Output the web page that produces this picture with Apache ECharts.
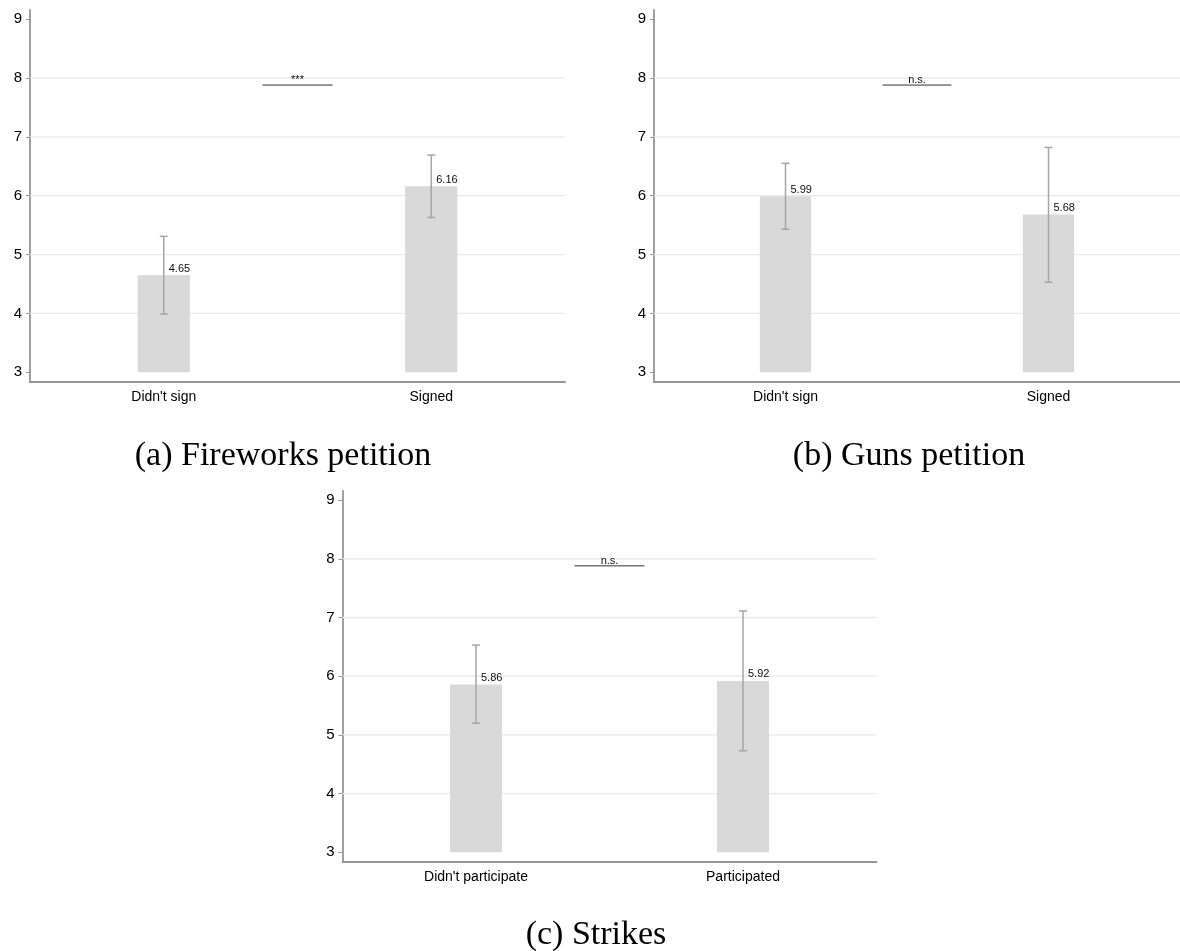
<!DOCTYPE html>
<html>
<head>
<meta charset="utf-8">
<script src="https://cdn.jsdelivr.net/npm/echarts@6/dist/echarts.min.js"></script>
<style>
  html, body { margin: 0; padding: 0; background: #fff; }
  #chart { width: 1180px; height: 951px; }
</style>
</head>
<body>
<div id="chart"></div>
<script>
// Mean ratings with 95% confidence intervals, bars start at the scale floor of 3.
const yTicks = [3, 4, 5, 6, 7, 8, 9];
const gridValues = [4, 5, 6, 7, 8];
const barBase = 3;
const sigLevel = 7.88;

// (a) Fireworks petition
const fireworksCategories = ["Didn't sign", "Signed"];
const fireworksMeans = [4.65, 6.16];
const fireworksLower = [3.99, 5.63];
const fireworksUpper = [5.31, 6.69];
const fireworksSig = '***';

// (b) Guns petition
const gunsCategories = ["Didn't sign", "Signed"];
const gunsMeans = [5.99, 5.68];
const gunsLower = [5.43, 4.53];
const gunsUpper = [6.55, 6.82];
const gunsSig = 'n.s.';

// (c) Strikes
const strikesCategories = ["Didn't participate", "Participated"];
const strikesMeans = [5.86, 5.92];
const strikesLower = [5.20, 4.73];
const strikesUpper = [6.53, 7.11];
const strikesSig = 'n.s.';

const captions = ['(a) Fireworks petition', '(b) Guns petition', '(c) Strikes'];

const SANS = "'Liberation Sans', Arial, Helvetica, sans-serif";
const AXIS_COLOR = '#969696';
const BAR_COLOR = '#d9d9d9';
const CI_COLOR = '#a6a6a6';
const GRID_COLOR = '#eaeaea';

const panels = [
  { cats: fireworksCategories, means: fireworksMeans, lo: fireworksLower, hi: fireworksUpper, sig: fireworksSig,
    grid: { left: 30, top: 10, width: 535, height: 372 } },
  { cats: gunsCategories, means: gunsMeans, lo: gunsLower, hi: gunsUpper, sig: gunsSig,
    grid: { left: 654, top: 10, width: 534, height: 372 } },
  { cats: strikesCategories, means: strikesMeans, lo: strikesLower, hi: strikesUpper, sig: strikesSig,
    grid: { left: 342.5, top: 491, width: 534, height: 371 } }
];

const captionPos = [[283, 456], [909, 456], [596, 935]];

function renderGridLine(params, api) {
  const cs = params.coordSys;
  const y = api.coord([0, api.value(1)])[1];
  return {
    type: 'line',
    shape: { x1: cs.x, y1: y, x2: cs.x + cs.width, y2: y },
    style: { stroke: GRID_COLOR, lineWidth: 1.3 }
  };
}

function renderBar(params, api) {
  const i = api.value(0);
  const mean = api.value(1);
  const base = api.coord([i, barBase]);
  const top = api.coord([i, mean]);
  const lo = api.coord([i, api.value(2)]);
  const hi = api.coord([i, api.value(3)]);
  const cx = base[0];
  const bw = api.size([1, 0])[0] * 0.195;
  const cap = 4;
  return {
    type: 'group',
    children: [
      { type: 'rect', shape: { x: cx - bw / 2, y: top[1], width: bw, height: base[1] - top[1] },
        style: { fill: BAR_COLOR } },
      { type: 'line', shape: { x1: cx, y1: hi[1], x2: cx, y2: lo[1] },
        style: { stroke: CI_COLOR, lineWidth: 1.5 } },
      { type: 'line', shape: { x1: cx - cap, y1: hi[1], x2: cx + cap, y2: hi[1] },
        style: { stroke: CI_COLOR, lineWidth: 1.5 } },
      { type: 'line', shape: { x1: cx - cap, y1: lo[1], x2: cx + cap, y2: lo[1] },
        style: { stroke: CI_COLOR, lineWidth: 1.5 } },
      { type: 'text', z2: 10,
        style: { text: mean.toFixed(2), x: cx + 5, y: top[1] - 1, fill: '#111',
                 fontSize: 11, fontFamily: SANS, align: 'left', verticalAlign: 'bottom' } }
    ]
  };
}

function makeSigRenderer(label) {
  return function (params, api) {
    const a = api.coord([0, api.value(1)]);
    const b = api.coord([1, api.value(1)]);
    const mid = (a[0] + b[0]) / 2;
    const half = api.size([1, 0])[0] * 0.131;
    return {
      type: 'group',
      children: [
        { type: 'line', shape: { x1: mid - half, y1: a[1], x2: mid + half, y2: a[1] },
          style: { stroke: '#333', lineWidth: 1 } },
        { type: 'text',
          style: { text: label, x: mid, y: a[1] + 0.5, fill: '#111',
                   fontSize: 11, fontFamily: SANS, align: 'center', verticalAlign: 'bottom' } }
      ]
    };
  };
}

const grid = [], xAxis = [], yAxis = [], series = [];
panels.forEach(function (p, k) {
  grid.push(Object.assign({ containLabel: false }, p.grid));
  xAxis.push({
    type: 'category', gridIndex: k, data: p.cats, boundaryGap: true,
    axisLine: { lineStyle: { color: AXIS_COLOR, width: 1.8 } },
    axisTick: { alignWithLabel: true, length: 4, lineStyle: { color: AXIS_COLOR, width: 1 } },
    axisLabel: { color: '#000', fontSize: 14, fontFamily: SANS, margin: 8 },
    splitLine: { show: false }
  });
  yAxis.push({
    type: 'value', gridIndex: k, min: 2.835, max: 9.155,
    axisLine: { show: true, lineStyle: { color: AXIS_COLOR, width: 1.8 } },
    axisTick: { show: true, length: 4, customValues: yTicks, lineStyle: { color: AXIS_COLOR, width: 1 } },
    axisLabel: { color: '#000', fontSize: 15, fontFamily: SANS, margin: 8, customValues: yTicks },
    splitLine: { show: false }
  });
  series.push({
    type: 'custom', name: 'grid' + k, xAxisIndex: k, yAxisIndex: k, z: 1, silent: true,
    renderItem: renderGridLine,
    data: gridValues.map(function (v) { return [0, v]; })
  });
  series.push({
    type: 'custom', name: 'bars' + k, xAxisIndex: k, yAxisIndex: k, z: 3, silent: true,
    renderItem: renderBar,
    encode: { x: 0, y: [1, 2, 3] },
    data: p.means.map(function (m, i) { return [i, m, p.lo[i], p.hi[i]]; })
  });
  series.push({
    type: 'custom', name: 'sig' + k, xAxisIndex: k, yAxisIndex: k, z: 4, silent: true,
    renderItem: makeSigRenderer(p.sig),
    data: [[0, sigLevel]]
  });
});

const graphic = captions.map(function (c, k) {
  return {
    type: 'text', x: captionPos[k][0], y: captionPos[k][1],
    style: { text: c, fill: '#000', fontSize: 34, fontFamily: "'Liberation Serif', 'Times New Roman', serif",
             align: 'center', verticalAlign: 'middle' }
  };
});

const chart = echarts.init(document.getElementById('chart'), null, { renderer: 'canvas' });
chart.setOption({
  animation: false,
  backgroundColor: '#ffffff',
  grid: grid,
  xAxis: xAxis,
  yAxis: yAxis,
  series: series,
  graphic: graphic
});
</script>
</body>
</html>
